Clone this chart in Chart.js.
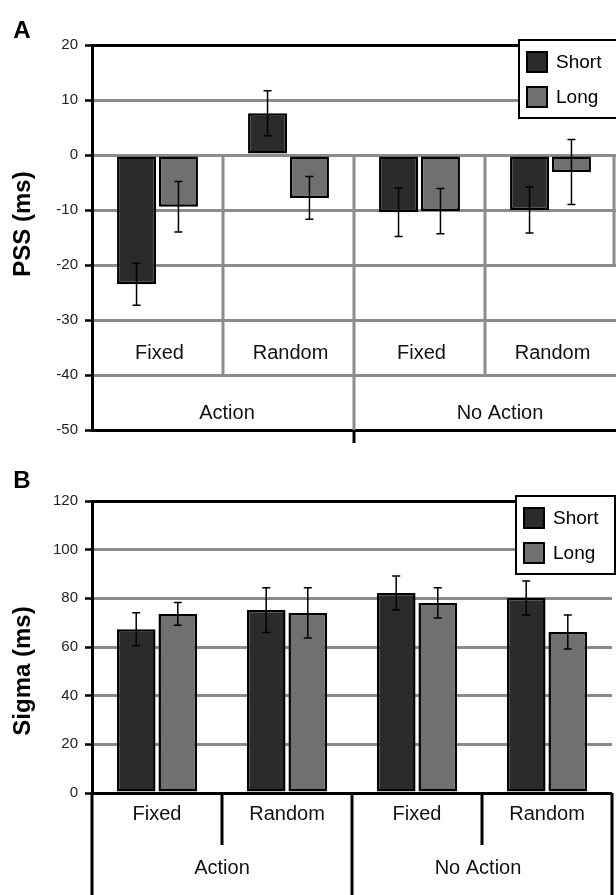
<!DOCTYPE html>
<html>
<head>
<meta charset="utf-8">
<title>PSS and Sigma</title>
<script src="https://cdn.jsdelivr.net/npm/chart.js@4.4.1/dist/chart.umd.min.js"></script>
<style>
  body { margin: 0; background: #fff; }
  .panel { position: absolute; left: 0; width: 616px; }
  #wrapA { top: 0; height: 450px; }
  #wrapB { top: 450px; height: 445px; }
</style>
</head>
<body>
<div class="panel" id="wrapA"><canvas id="chartA" width="616" height="450"></canvas></div>
<div class="panel" id="wrapB"><canvas id="chartB" width="616" height="445"></canvas></div>
<script>
var conditions = ['Fixed', 'Random', 'Fixed', 'Random'];
var groups = ['Action', 'No Action'];
var seriesNames = ['Short', 'Long'];

// panel A - PSS (ms)
var pssShort = [-23.5, 7.6, -10.4, -10.0];
var pssShortErr = [3.8, 4.1, 4.4, 4.2];
var pssLong = [-9.4, -7.8, -10.2, -3.1];
var pssLongErr = [4.6, 3.9, 4.1, 5.9];
var pssTicks = [20, 10, 0, -10, -20, -30, -40, -50];

// panel B - Sigma (ms)
var sigmaShort = [67.3, 75.2, 82.2, 80.1];
var sigmaShortErr = [6.8, 9.2, 7.0, 7.0];
var sigmaLong = [73.6, 74.0, 78.1, 66.2];
var sigmaLongErr = [4.7, 10.3, 6.2, 7.0];
var sigmaTicks = [120, 100, 80, 60, 40, 20, 0];

var colors = ['#2b2b2b', '#707070'];
var gridGray = '#8c8c8c';
var FONT = '"Liberation Sans", Arial, Helvetica, sans-serif';

function makeDatasets(short, shortErr, long, longErr) {
  return [
    { label: seriesNames[0], data: short, errors: shortErr, backgroundColor: colors[0] },
    { label: seriesNames[1], data: long, errors: longErr, backgroundColor: colors[1] }
  ].map(function(d) {
    d.borderColor = '#000';
    d.borderWidth = 2.5;
    d.borderSkipped = false;
    d.categoryPercentage = 0.64;
    d.barPercentage = 0.93;
    return d;
  });
}

function yAxis(ticks) {
  var top = ticks[0], bottom = ticks[ticks.length - 1];
  var asc = ticks.slice().reverse();
  return {
    min: bottom,
    max: top,
    afterFit: function(s) { s.width = 92; },
    afterBuildTicks: function(s) { s.ticks = asc.map(function(v) { return { value: v }; }); },
    ticks: { font: { family: FONT, size: 15 }, color: '#222', padding: 7 },
    grid: {
      color: function(c) {
        return (c.tick && (c.tick.value === top || c.tick.value === bottom)) ? '#000' : gridGray;
      },
      lineWidth: 3,
      tickColor: '#000',
      tickLength: 7,
      tickWidth: 2.5
    },
    border: { display: true, color: '#000', width: 3 }
  };
}

// error bars on top of every bar
var errorBars = {
  id: 'errorBars',
  afterDatasetsDraw: function(chart) {
    var ctx = chart.ctx, y = chart.scales.y;
    ctx.save();
    ctx.strokeStyle = '#000';
    ctx.lineWidth = 1.5;
    chart.data.datasets.forEach(function(ds, di) {
      chart.getDatasetMeta(di).data.forEach(function(bar, i) {
        var v = ds.data[i], e = ds.errors[i];
        var y1 = y.getPixelForValue(v + e), y2 = y.getPixelForValue(v - e);
        ctx.beginPath();
        ctx.moveTo(bar.x, y1); ctx.lineTo(bar.x, y2);
        ctx.moveTo(bar.x - 4, y1); ctx.lineTo(bar.x + 4, y1);
        ctx.moveTo(bar.x - 4, y2); ctx.lineTo(bar.x + 4, y2);
        ctx.stroke();
      });
    });
    ctx.restore();
  }
};

// panel letter, y title and boxed legend
var decor = {
  id: 'decor',
  afterDraw: function(chart, args, opts) {
    var ctx = chart.ctx, area = chart.chartArea;
    ctx.save();
    ctx.fillStyle = '#000';
    ctx.textAlign = 'center';
    ctx.textBaseline = 'middle';
    ctx.font = 'bold 24px ' + FONT;
    ctx.fillText(opts.letter, 22, 31);
    ctx.translate(23, opts.titleY);
    ctx.rotate(-Math.PI / 2);
    ctx.font = 'bold 24px ' + FONT;
    ctx.fillText(opts.title, 0, 0);
    ctx.restore();

    var bx = area.right - opts.legendInset, by = area.top - 5, bw = opts.legendWidth, bh = 78;
    ctx.save();
    ctx.fillStyle = '#fff';
    ctx.fillRect(bx, by, bw, bh);
    ctx.strokeStyle = '#000';
    ctx.lineWidth = 2;
    ctx.strokeRect(bx, by, bw, bh);
    chart.data.datasets.forEach(function(ds, i) {
      var sy = by + 12 + i * 35;
      ctx.fillStyle = ds.backgroundColor;
      ctx.fillRect(bx + 8, sy, 20, 20);
      ctx.strokeRect(bx + 8, sy, 20, 20);
      ctx.fillStyle = '#000';
      ctx.font = '19px ' + FONT;
      ctx.textAlign = 'left';
      ctx.textBaseline = 'middle';
      ctx.fillText(ds.label, bx + 37, sy + 11);
    });
    ctx.restore();
  }
};

// panel A: category table sits inside the plot, below the bars
var tableA = {
  id: 'tableA',
  beforeDatasetsDraw: function(chart) {
    var ctx = chart.ctx, x = chart.scales.x, y = chart.scales.y, area = chart.chartArea;
    var cw = x.getPixelForValue(1) - x.getPixelForValue(0);
    var edge = function(i) { return area.left + i * cw; };
    var y0 = y.getPixelForValue(0);
    ctx.save();
    ctx.strokeStyle = gridGray;
    ctx.lineWidth = 3;
    ctx.beginPath();
    [1, 3].forEach(function(i) {
      ctx.moveTo(edge(i), y0); ctx.lineTo(edge(i), y.getPixelForValue(-40));
    });
    ctx.moveTo(edge(2), y0); ctx.lineTo(edge(2), y.getPixelForValue(-50));
    ctx.moveTo(area.right - 2, y0); ctx.lineTo(area.right - 2, y.getPixelForValue(-20));
    ctx.stroke();
    ctx.strokeStyle = '#000';
    ctx.beginPath();
    ctx.moveTo(edge(2), area.bottom); ctx.lineTo(edge(2), area.bottom + 13);
    ctx.stroke();

    ctx.fillStyle = '#111';
    ctx.font = '20px ' + FONT;
    ctx.textAlign = 'center';
    ctx.textBaseline = 'middle';
    conditions.forEach(function(c, i) {
      ctx.fillText(c, x.getPixelForValue(i) + 2, y.getPixelForValue(-36));
    });
    ctx.fillText(groups[0], (edge(0) + edge(2)) / 2 + 4, y.getPixelForValue(-47));
    ctx.fillText(groups[1], (edge(2) + area.right) / 2 + 15, y.getPixelForValue(-47));
    ctx.restore();
  }
};

// panel B: category table hangs below the axis
var tableB = {
  id: 'tableB',
  afterDraw: function(chart) {
    var ctx = chart.ctx, x = chart.scales.x, area = chart.chartArea;
    var cw = x.getPixelForValue(1) - x.getPixelForValue(0);
    var edge = function(i) { return area.left + i * cw; };
    ctx.save();
    ctx.strokeStyle = '#000';
    ctx.lineWidth = 3;
    ctx.beginPath();
    [1, 3].forEach(function(i) {
      ctx.moveTo(edge(i), area.bottom); ctx.lineTo(edge(i), area.bottom + 52);
    });
    [0, 2, 4].forEach(function(i) {
      ctx.moveTo(edge(i), area.bottom); ctx.lineTo(edge(i), chart.height);
    });
    ctx.stroke();
    ctx.fillStyle = '#111';
    ctx.font = '20px ' + FONT;
    ctx.textAlign = 'center';
    ctx.textBaseline = 'middle';
    conditions.forEach(function(c, i) {
      ctx.fillText(c, x.getPixelForValue(i), area.bottom + 21);
    });
    ctx.fillText(groups[0], (edge(0) + edge(2)) / 2, area.bottom + 75);
    ctx.fillText(groups[1], (edge(2) + edge(4)) / 2 - 4, area.bottom + 75);
    ctx.restore();
  }
};

Chart.defaults.animation = false;
Chart.defaults.font.family = FONT;

new Chart(document.getElementById('chartA'), {
  type: 'bar',
  data: { labels: conditions, datasets: makeDatasets(pssShort, pssShortErr, pssLong, pssLongErr) },
  options: {
    responsive: false,
    layout: { padding: { top: 45, bottom: 20, left: 0, right: 0 } },
    scales: { x: { display: false }, y: yAxis(pssTicks) },
    plugins: {
      legend: { display: false },
      tooltip: { enabled: false },
      decor: { letter: 'A', title: 'PSS (ms)', titleY: 224, legendInset: 97, legendWidth: 100 }
    }
  },
  plugins: [tableA, errorBars, decor]
});

new Chart(document.getElementById('chartB'), {
  type: 'bar',
  data: { labels: conditions, datasets: makeDatasets(sigmaShort, sigmaShortErr, sigmaLong, sigmaLongErr) },
  options: {
    responsive: false,
    layout: { padding: { top: 51, bottom: 102, left: 0, right: 4 } },
    scales: { x: { display: false }, y: yAxis(sigmaTicks) },
    plugins: {
      legend: { display: false },
      tooltip: { enabled: false },
      decor: { letter: 'B', title: 'Sigma (ms)', titleY: 221, legendInset: 96, legendWidth: 99 }
    }
  },
  plugins: [errorBars, tableB, decor]
});
</script>
</body>
</html>
